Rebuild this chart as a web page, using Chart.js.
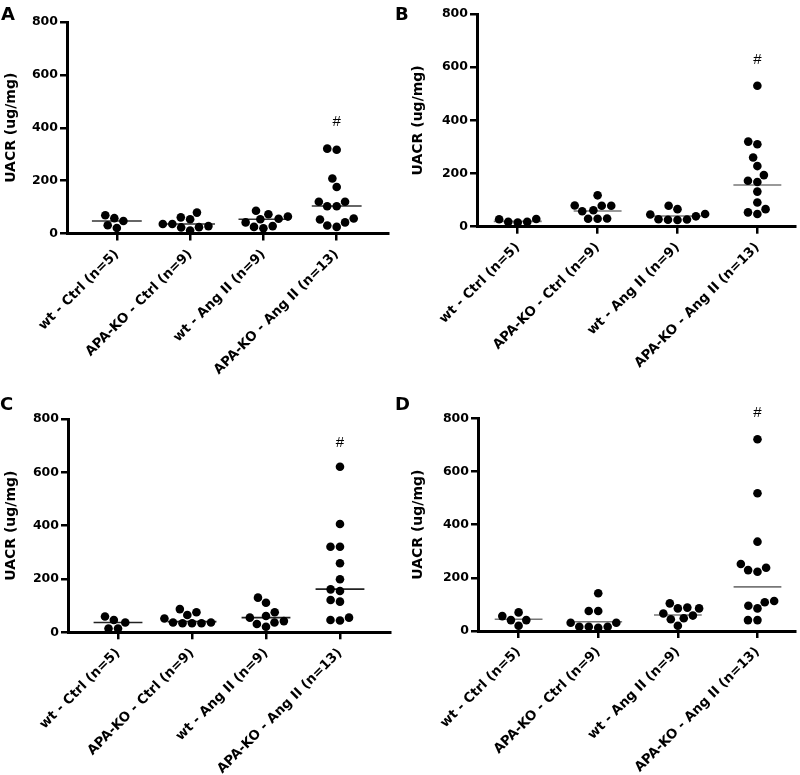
<!DOCTYPE html>
<html><head><meta charset="utf-8">
<script src="https://cdn.jsdelivr.net/npm/chart.js@4.4.0/dist/chart.umd.min.js"></script>
<style>
html,body{margin:0;padding:0;background:#fff;}
#wrap{position:relative;width:800px;height:775px;overflow:hidden;background:#fff}
canvas{position:absolute}
.lab{position:absolute;font-family:"DejaVu Sans";font-weight:bold;font-size:18px;line-height:18px;color:#000}
</style></head><body>
<div id="wrap">
<canvas id="cA" width="400" height="400" style="left:0;top:0"></canvas>
<canvas id="cB" width="400" height="400" style="left:400px;top:0"></canvas>
<canvas id="cC" width="400" height="375" style="left:0;top:400px"></canvas>
<canvas id="cD" width="400" height="375" style="left:400px;top:400px"></canvas>
<div class="lab" style="left:1px;top:5px">A</div>
<div class="lab" style="left:395px;top:5px">B</div>
<div class="lab" style="left:0px;top:395px">C</div>
<div class="lab" style="left:395px;top:395px">D</div>
</div>
<script>
// ---- data ----
const categories = ['wt - Ctrl (n=5)', 'APA-KO - Ctrl (n=9)', 'wt - Ang II (n=9)', 'APA-KO - Ang II (n=13)'];
const yTicks = [0, 200, 400, 600, 800];
const yTitle = 'UACR (ug/mg)';
const marker = '#';

// Panel A
const A_wtCtrl   = [69, 58, 47, 31, 21];
const A_koCtrl   = [79, 61, 54, 36, 36, 28, 24, 23, 11];
const A_wtAng    = [86, 73, 64, 56, 54, 42, 28, 25, 20];
const A_koAng    = [321, 317, 208, 176, 120, 120, 103, 103, 57, 53, 42, 30, 25];
const A_medians  = [47, 36, 54, 104];
const A_hash     = 423;

// Panel B
const B_wtCtrl   = [29, 28, 18, 18, 16];
const B_koCtrl   = [118, 80, 79, 79, 62, 58, 31, 30, 30];
const B_wtAng    = [79, 66, 48, 46, 39, 28, 27, 26, 25];
const B_koAng    = [530, 320, 310, 260, 228, 194, 173, 168, 132, 91, 66, 54, 48];
const B_medians  = [20, 59, 40, 157];
const B_hash     = 627;

// Panel C
const C_wtCtrl   = [59, 46, 37, 14, 14];
const C_koCtrl   = [87, 75, 65, 52, 37, 37, 34, 34, 34];
const C_wtAng    = [130, 111, 75, 61, 55, 42, 37, 31, 21];
const C_koAng    = [621, 406, 321, 321, 259, 199, 161, 155, 121, 115, 55, 46, 44];
const C_medians  = [37, 40, 55, 162];
const C_hash     = 709;

// Panel D
const D_wtCtrl   = [70, 56, 41, 41, 20];
const D_koCtrl   = [142, 75, 75, 31, 31, 16, 16, 16, 12];
const D_wtAng    = [104, 88, 85, 85, 66, 58, 48, 44, 20];
const D_koAng    = [721, 518, 336, 252, 238, 229, 223, 113, 108, 95, 85, 41, 41];
const D_medians  = [44, 35, 60, 166];
const D_hash     = 819;

// ---- layout / style (not data) ----
const panels = [
  {id:'cA', groups:[A_wtCtrl,A_koCtrl,A_wtAng,A_koAng], medians:A_medians, hash:A_hash,
   pad:{left:0,top:22,right:12,bottom:0}, yW:67, xH:166.5, xMin:-0.68, xMax:3.70, half:0.34, lineColor:'#333'},
  {id:'cB', groups:[B_wtCtrl,B_koCtrl,B_wtAng,B_koAng], medians:B_medians, hash:B_hash,
   pad:{left:7,top:14,right:4,bottom:0}, yW:70, xH:173.3, xMin:-0.51, xMax:3.48, half:0.30, lineColor:'#777'},
  {id:'cC', groups:[C_wtCtrl,C_koCtrl,C_wtAng,C_koAng], medians:C_medians, hash:C_hash,
   pad:{left:0,top:19,right:10,bottom:0}, yW:68, xH:142.7, xMin:-0.676, xMax:3.676, half:0.33, lineColor:'#222'},
  {id:'cD', groups:[D_wtCtrl,D_koCtrl,D_wtAng,D_koAng], medians:D_medians, hash:D_hash,
   pad:{left:7,top:18.3,right:4,bottom:0}, yW:71, xH:144, xMin:-0.51, xMax:3.48, half:0.30, lineColor:'#777'}
];

function swarm(ys, d) {
  const idx = ys.map((y,i)=>i).sort((a,b)=>ys[b]-ys[a]);
  const placed = []; const xs = new Array(ys.length).fill(0);
  for (const i of idx) {
    const y = ys[i];
    const near = placed.filter(p => Math.abs(p.y - y) < d);
    const cands = [0];
    near.forEach(p => { const dx = Math.sqrt(d*d - (p.y-y)*(p.y-y)); cands.push(p.x+dx, p.x-dx); });
    cands.sort((a,b)=>Math.abs(a)-Math.abs(b) || a-b);
    let x = 0;
    for (const c of cands) {
      if (near.every(p => (p.x-c)*(p.x-c) + (p.y-y)*(p.y-y) >= d*d - 1e-6)) { x = c; break; }
    }
    placed.push({x, y}); xs[i] = x;
  }
  return xs;
}

const hashPlugin = {
  id: 'hashMark',
  afterDraw(chart) {
    const o = chart.options.plugins.hashMark;
    const ctx = chart.ctx;
    ctx.save();
    ctx.fillStyle = '#000';
    ctx.font = '15px "Liberation Sans"';
    ctx.textAlign = 'center';
    ctx.textBaseline = 'middle';
    ctx.fillText(marker, chart.scales.x.getPixelForValue(3), chart.scales.y.getPixelForValue(o.value));
    ctx.restore();
  }
};

panels.forEach(P => {
  const datasets = [];
  P.groups.forEach((vals, gi) => {
    datasets.push({type:'scatter', data: vals.map(v => ({x: gi, y: v})),
      pointRadius: 4.3, pointBackgroundColor:'#000', pointBorderWidth:0, pointHoverRadius:4.3, order: 1});
  });
  P.medians.forEach((m, gi) => {
    datasets.push({type:'line', data:[{x: gi - P.half, y: m}, {x: gi + P.half, y: m}],
      borderColor: P.lineColor, borderWidth: 1.6, pointRadius: 0, fill:false, order: 2});
  });
  const chart = new Chart(document.getElementById(P.id), {
    type: 'scatter',
    data: {datasets},
    plugins: [hashPlugin],
    options: {
      responsive: false, animation: false, events: [],
      devicePixelRatio: 1,
      layout: {padding: P.pad},
      plugins: {legend:{display:false}, tooltip:{enabled:false}, hashMark:{value:P.hash}},
      scales: {
        x: {
          type: 'linear', min: P.xMin, max: P.xMax,
          afterBuildTicks: s => { s.ticks = categories.map((c,i)=>({value:i})); },
          afterFit: s => { s.height = P.xH; },
          border: {display:true, color:'#000', width:3},
          grid: {display:true, drawOnChartArea:false, drawTicks:true, tickLength:7, color:'#000', lineWidth:2.5},
          ticks: {autoSkip:false, minRotation:45, maxRotation:45, padding:6, color:'#000',
            font:{family:'DejaVu Sans', weight:'bold', size:13.3},
            callback: v => categories[Math.round(v)]}
        },
        y: {
          type: 'linear', min: 0, max: 800,
          afterBuildTicks: s => { s.ticks = yTicks.map(v=>({value:v})); },
          afterFit: s => { s.width = P.yW; },
          border: {display:true, color:'#000', width:3},
          grid: {display:true, drawOnChartArea:false, drawTicks:true, tickLength:7, color:'#000', lineWidth:2.5},
          ticks: {padding:2, color:'#000', font:{family:'DejaVu Sans', weight:'bold', size:12.5}},
          title: {display:true, text:yTitle, color:'#000', padding:{top:3,bottom:0},
            font:{family:'DejaVu Sans', weight:'bold', size:14}}
        }
      }
    }
  });
  // beeswarm spread of dots within each group
  const xs = chart.scales.x, ys = chart.scales.y;
  const ppu = Math.abs(xs.getPixelForValue(1) - xs.getPixelForValue(0));
  P.groups.forEach((vals, gi) => {
    const off = swarm(vals.map(v => ys.getPixelForValue(v)), 9.5);
    chart.data.datasets[gi].data = vals.map((v,k) => ({x: gi + off[k]/ppu, y: v}));
  });
  chart.update('none');
});
</script>
</body></html>
